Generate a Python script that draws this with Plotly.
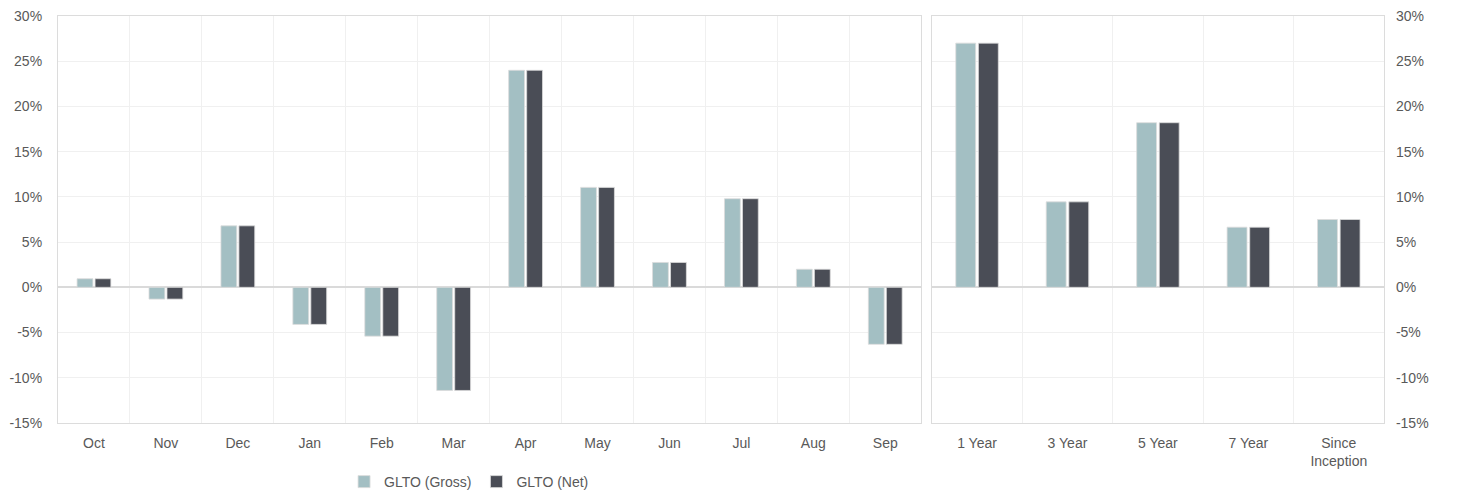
import plotly.graph_objects as go

months = ["Oct", "Nov", "Dec", "Jan", "Feb", "Mar", "Apr", "May", "Jun", "Jul", "Aug", "Sep"]
monthly_gross = [0.95, -1.3, 6.8, -4.1, -5.4, -11.4, 24.0, 11.05, 2.75, 9.8, 2.0, -6.3]
monthly_net = [0.95, -1.3, 6.8, -4.1, -5.4, -11.4, 24.0, 11.05, 2.75, 9.8, 2.0, -6.3]

periods = ["1 Year", "3 Year", "5 Year", "7 Year", "Since<br>Inception"]
period_gross = [27.0, 9.45, 18.2, 6.65, 7.5]
period_net = [27.0, 9.45, 18.2, 6.65, 7.5]

y_ticks = [-15, -10, -5, 0, 5, 10, 15, 20, 25, 30]
y_labels = [f"{v}%" for v in y_ticks]

GROSS = "#a3bfc3"
NET = "#4a4d56"
FONT = "Liberation Sans, Arial, sans-serif"
TXT = "#595959"

fig = go.Figure()
line = dict(color="#dcdcdc", width=0.8)
fig.add_trace(go.Bar(x=months, y=monthly_gross, name="GLTO (Gross)", marker=dict(color=GROSS, line=line),
                     xaxis="x", yaxis="y", legendgroup="g"))
fig.add_trace(go.Bar(x=months, y=monthly_net, name="GLTO (Net)", marker=dict(color=NET, line=line),
                     xaxis="x", yaxis="y", legendgroup="n"))
fig.add_trace(go.Bar(x=periods, y=period_gross, name="GLTO (Gross)", marker=dict(color=GROSS, line=line),
                     xaxis="x2", yaxis="y2", showlegend=False, legendgroup="g", offsetgroup="a"))
fig.add_trace(go.Bar(x=periods, y=period_net, name="GLTO (Net)", marker=dict(color=NET, line=line),
                     xaxis="x2", yaxis="y2", showlegend=False, legendgroup="n", offsetgroup="b"))

axis_common = dict(showline=True, linecolor="#dcdcdc", linewidth=1.2, mirror=True,
                   showgrid=True, gridcolor="#f0f0f0", gridwidth=1, automargin=False,
                   ticklabeloverflow="allow")
yaxis_common = dict(range=[-15, 30], tickvals=y_ticks, ticktext=y_labels,
                    zeroline=True, zerolinecolor="#dadada", zerolinewidth=1.5,
                    tickfont=dict(size=14, color=TXT, family=FONT), fixedrange=True, **axis_common)
xaxis_common = dict(type="category", tickson="boundaries", ticks="", ticklen=0, ticklabelstandoff=7,
                    tickfont=dict(size=14, color=TXT, family=FONT), **axis_common)

fig.update_layout(
    width=1460, height=493,
    margin=dict(l=58, r=76, t=16, b=70, autoexpand=False),
    paper_bgcolor="white", plot_bgcolor="white",
    barmode="group", bargap=0.5, bargroupgap=0.12,
    font=dict(family=FONT, size=14, color=TXT),
    xaxis=dict(domain=[0, 0.651], anchor="y", **xaxis_common),
    yaxis=dict(anchor="x", side="left", ticklabelstandoff=12, **yaxis_common),
    xaxis2=dict(domain=[0.659, 1.0], anchor="y2", **xaxis_common),
    yaxis2=dict(anchor="x2", side="right", ticklabelstandoff=8, **yaxis_common),
    legend=dict(orientation="h", x=0.31, xanchor="center", y=-0.145, yanchor="middle",
                font=dict(size=14, color=TXT, family=FONT), itemwidth=30, tracegroupgap=0),
    showlegend=True,
)

fig.write_html("out.html", config={"displayModeBar": False},
               post_script="document.body.style.margin='0';")
